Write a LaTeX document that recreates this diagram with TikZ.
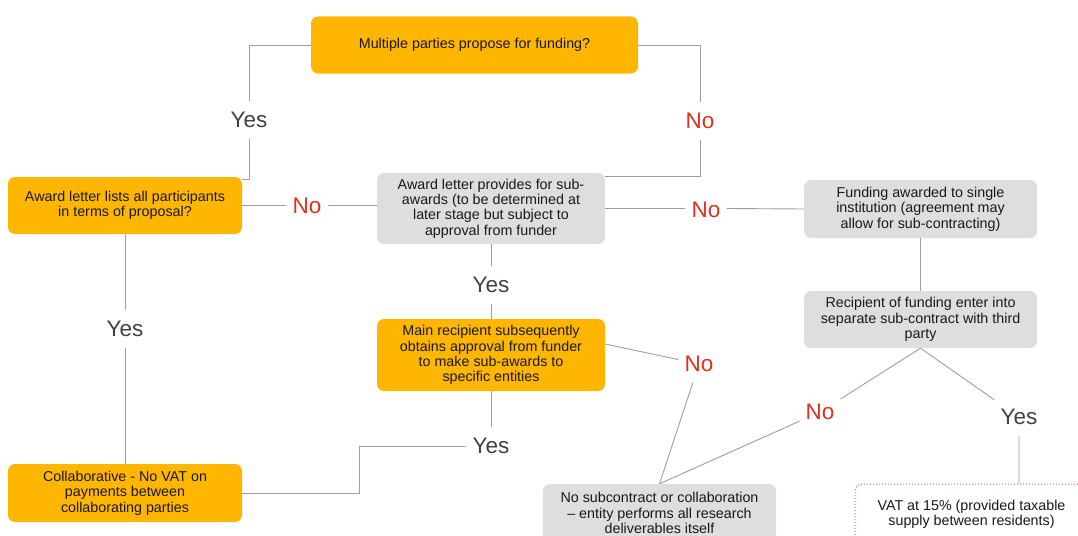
\documentclass[tikz,border=0pt]{standalone}
\usepackage{fontspec}
\setmainfont{Liberation Sans}

\definecolor{pwcorange}{HTML}{FFB600}
\definecolor{boxgrey}{HTML}{DEDEDE}
\definecolor{linegrey}{HTML}{9E9E9E}
\definecolor{yesgrey}{HTML}{404048}
\definecolor{nored}{HTML}{E0301E}

\tikzset{
  flowbox/.style={rectangle, rounded corners=7pt, align=center, inner sep=0pt,
    text=black!90, font=\fontsize{14.3}{15.4}\selectfont},
  orangebox/.style={flowbox, fill=pwcorange},
  greybox/.style={flowbox, fill=boxgrey},
  vatbox/.style={flowbox, fill=white, draw=nored!75, dotted, line width=1pt},
  conn/.style={draw=linegrey, line width=0.9pt},
  answer/.style={font=\fontsize{22.5}{24}\selectfont, inner xsep=6pt,
    minimum height=37pt, inner ysep=0pt},
  yestag/.style={answer, text=yesgrey},
  notag/.style={answer, text=nored},
}

\begin{document}
\begin{tikzpicture}[x=1pt, y=-1pt]
  \useasboundingbox (0,0) rectangle (1078,535);
  \clip (0,0) rectangle (1078,535);

  % Define nodes
  \node[orangebox, minimum width=327pt, minimum height=57pt] (multi) at (474.5,45)
    {Multiple parties propose for funding?};
  \node[orangebox, minimum width=234pt, minimum height=57pt] (lists) at (125,205.5)
    {Award letter lists all participants\\in terms of proposal?};
  \node[greybox, minimum width=228pt, minimum height=71pt] (provides) at (491,208.5)
    {Award letter provides for sub-\\awards (to be determined at\\later stage but subject to\\approval from funder};
  \node[greybox, minimum width=233pt, minimum height=58pt] (single) at (920.5,209)
    {Funding awarded to single\\institution (agreement may\\allow for sub-contracting)};
  \node[greybox, minimum width=233pt, minimum height=57pt] (subcon) at (920.5,319.5)
    {Recipient of funding enter into\\separate sub-contract with third\\party};
  \node[orangebox, minimum width=228pt, minimum height=72pt] (mainrec) at (491,355)
    {Main recipient subsequently\\obtains approval from funder\\to make sub-awards to\\specific entities};
  \node[orangebox, minimum width=234pt, minimum height=58pt] (collab) at (125,493)
    {Collaborative - No VAT on\\payments between\\collaborating parties};
  \node[greybox, minimum width=233pt, minimum height=58pt] (itself) at (659.5,513)
    {No subcontract or collaboration\\– entity performs all research\\deliverables itself};
  \node[vatbox, minimum width=233pt, minimum height=60pt] (vat) at (971.5,514)
    {VAT at 15\% (provided taxable\\supply between residents)};

  % Add labels
  \node[yestag] (yesA) at (249,120) {Yes};
  \node[notag] (noA) at (700,121) {No};
  \node[notag] (noB) at (307,206) {No};
  \node[notag] (noC) at (706,210) {No};
  \node[yestag] (yesB) at (125,329) {Yes};
  \node[yestag] (yesC) at (491,285) {Yes};
  \node[yestag] (yesD) at (491,446) {Yes};
  \node[notag] (noD) at (699,364) {No};
  \node[notag] (noE) at (820,412) {No};
  \node[yestag] (yesE) at (1019,417) {Yes};
  \coordinate (step) at (359,446);

  % Draw edges
  \draw[conn] (multi.west) -| (yesA.north);
  \draw[conn] (yesA.south) |- ([yshift=-3pt]lists.north east);
  \draw[conn] (multi.east) -| (noA.north);
  \draw[conn] (noA.south) |- ([yshift=-4pt]provides.north east);
  \draw[conn] (lists.east) -- (lists.east -| noB.west);
  \draw[conn] (lists.east -| noB.east) -- (lists.east -| provides.west);
  \draw[conn] (provides.east) -- (provides.east -| noC.west);
  \draw[conn] (provides.east -| noC.east) -- (single.west);
  \draw[conn] (single.south) -- (subcon.north);
  \draw[conn] (lists.south) -- (yesB) -- (collab.north);
  \draw[conn] (provides.south) -- (yesC) -- (mainrec.north);
  \draw[conn] (mainrec.south) -- (yesD.north);
  \draw[conn] (yesD.west) -- (step) |- (collab.east);
  \draw[conn] ([yshift=11pt]mainrec.east) -- (noD) -- (itself.north);
  \draw[conn] (subcon.south) -- (noE) -- (itself.north);
  \draw[conn] (subcon.south) -- (yesE) -- (yesE |- vat.north);
\end{tikzpicture}
\end{document}
